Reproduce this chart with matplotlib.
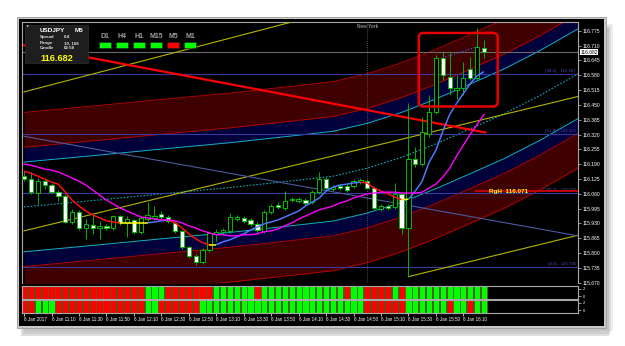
import matplotlib
matplotlib.use("Agg")
import matplotlib.pyplot as plt
import numpy as np
from matplotlib.patches import Rectangle, FancyBboxPatch
from matplotlib.collections import LineCollection

plt.rcParams['font.family'] = ['Liberation Sans', 'DejaVu Sans']

# USDJPY M5, 6 Jan 2017, bars from 10:50 to 16:25
opens = [116.137, 116.124, 116.063, 116.115, 116.098, 116.067, 116.050, 115.936, 115.980, 115.910,
         115.923, 115.910, 115.919, 115.910, 115.962, 115.932, 115.945, 115.893, 115.949, 115.954,
         115.971, 115.958, 115.932, 115.897, 115.827, 115.788, 115.762, 115.814, 115.884, 115.893,
         115.897, 115.949, 115.954, 115.945, 115.928, 115.897, 115.980, 116.011, 115.997, 116.032,
         116.028, 116.032, 116.024, 116.067, 116.124, 116.080, 116.094, 116.094, 116.094, 116.111,
         116.115, 116.085, 115.993, 116.006, 116.002, 116.059, 115.910, 116.211, 116.190, 116.321,
         116.421, 116.657, 116.574, 116.517, 116.526, 116.609, 116.570, 116.701]
highs = [116.159, 116.155, 116.129, 116.124, 116.107, 116.076, 116.059, 115.993, 115.989, 115.949,
         115.971, 115.941, 115.928, 115.967, 115.967, 115.962, 115.949, 115.962, 116.024, 116.006,
         115.984, 115.967, 115.941, 115.901, 115.832, 115.796, 115.823, 115.897, 115.906, 115.910,
         115.976, 115.967, 115.962, 115.954, 115.936, 115.989, 116.015, 116.024, 116.072, 116.046,
         116.046, 116.041, 116.076, 116.155, 116.133, 116.098, 116.102, 116.102, 116.124, 116.129,
         116.124, 116.094, 116.015, 116.015, 116.107, 116.067, 116.460, 116.264, 116.399, 116.495,
         116.670, 116.683, 116.683, 116.583, 116.640, 116.661, 116.788, 116.736]
lows = [116.115, 116.059, 116.015, 116.080, 116.059, 116.028, 115.932, 115.928, 115.901, 115.862,
        115.884, 115.862, 115.901, 115.901, 115.923, 115.871, 115.884, 115.884, 115.941, 115.945,
        115.949, 115.932, 115.888, 115.818, 115.779, 115.748, 115.753, 115.805, 115.853, 115.880,
        115.888, 115.941, 115.932, 115.919, 115.888, 115.888, 115.971, 115.993, 115.989, 116.024,
        116.019, 116.011, 116.015, 116.059, 116.076, 116.072, 116.076, 116.067, 116.085, 116.102,
        116.080, 115.989, 115.984, 115.989, 115.993, 115.884, 115.696, 116.177, 116.181, 116.308,
        116.408, 116.561, 116.495, 116.474, 116.495, 116.561, 116.561, 116.657]
closes = [116.124, 116.067, 116.115, 116.098, 116.067, 116.050, 115.936, 115.980, 115.910, 115.928,
          115.910, 115.919, 115.910, 115.962, 115.932, 115.949, 115.893, 115.954, 115.967, 115.962,
          115.958, 115.941, 115.897, 115.827, 115.788, 115.762, 115.814, 115.888, 115.893, 115.901,
          115.958, 115.958, 115.941, 115.928, 115.901, 115.980, 116.006, 116.002, 116.028, 116.037,
          116.037, 116.019, 116.067, 116.124, 116.085, 116.089, 116.085, 116.076, 116.115, 116.120,
          116.085, 115.997, 116.006, 115.997, 116.059, 115.910, 116.211, 116.190, 116.329, 116.421,
          116.657, 116.583, 116.526, 116.526, 116.570, 116.570, 116.705, 116.683]

ma_fast = [116.159, 116.150, 116.137, 116.124, 116.111, 116.102, 116.067, 116.032, 116.006, 115.984,
           115.967, 115.954, 115.941, 115.936, 115.932, 115.932, 115.932, 115.932, 115.932, 115.936,
           115.941, 115.945, 115.932, 115.910, 115.884, 115.862, 115.845, 115.836, 115.836, 115.849,
           115.858, 115.871, 115.884, 115.901, 115.914, 115.928, 115.936, 115.945, 115.958, 115.971,
           115.984, 116.006, 116.024, 116.041, 116.072, 116.089, 116.098, 116.102, 116.107, 116.111,
           116.107, 116.085, 116.072, 116.059, 116.046, 116.034, 116.036, 116.072, 116.115, 116.198,
           116.251, 116.334, 116.408, 116.456, 116.500, 116.543, 116.578, 116.596]
ma_slow = [116.190, 116.185, 116.177, 116.168, 116.164, 116.155, 116.142, 116.129, 116.115, 116.098,
           116.076, 116.054, 116.032, 116.015, 115.997, 115.984, 115.971, 115.958, 115.954, 115.949,
           115.945, 115.945, 115.941, 115.932, 115.919, 115.910, 115.897, 115.888, 115.880, 115.880,
           115.875, 115.875, 115.880, 115.880, 115.884, 115.893, 115.897, 115.906, 115.919, 115.932,
           115.949, 115.962, 115.976, 115.989, 115.997, 116.006, 116.019, 116.028, 116.041, 116.050,
           116.059, 116.063, 116.067, 116.067, 116.067, 116.063, 116.063, 116.063, 116.067, 116.085,
           116.102, 116.133, 116.172, 116.225, 116.273, 116.321, 116.364, 116.408]

# polynomial regression channel: middle line and band offsets
chan_x = [0, 10, 20, 30, 40, 45, 50, 55, 60, 65, 70, 75, 81]
chan_mid = [116.002, 116.030, 116.059, 116.087, 116.120, 116.137, 116.172, 116.220, 116.279,
            116.345, 116.412, 116.489, 116.592]
band_inner = 0.197
band_mid = 0.262
band_outer = 0.415

# straight trend lines: (bar, bar), (price, price)
yellow_top = ([0, 39], [116.507, 116.814])
yellow_mid = ([0, 80.7], [115.897, 116.487])
yellow_low = ([56, 81], [115.696, 115.880])
steel_line = ([0, 80.7], [116.312, 115.875])
red_trend = ([0, 67.2], [116.712, 116.329])
blue_dots = ([61, 66], [116.657, 116.705])

fibo_levels = [116.587, 116.321, 116.063, 115.740]
fibo_names = ['(38.2) - 116.587', '(61.8) - 116.321', '(100.0) - 116.063', '(0.0) - 115.740']
rgh_level = 116.071
rgh_start = 65.8
bid = 116.682
box_bars = (57.5, 69.0)
box_prices = (116.443, 116.766)
ny_bar = 50

price_ticks = [116.775 - 0.065 * k for k in range(18)]
time_ticks = [0, 4, 8, 12, 16, 20, 24, 28, 32, 36, 40, 44, 48, 52, 56, 60, 64]
time_labels = ['6 Jan 2017', '6 Jan 11:10', '6 Jan 11:30', '6 Jan 11:50', '6 Jan 12:10',
               '6 Jan 12:30', '6 Jan 12:50', '6 Jan 13:10', '6 Jan 13:30', '6 Jan 13:50',
               '6 Jan 14:10', '6 Jan 14:30', '6 Jan 14:50', '6 Jan 15:10', '6 Jan 15:30',
               '6 Jan 15:50', '6 Jan 16:10']

trend_a = "RRRRRRRRRRRRRRRRRRGGGRRRRRRRGGGGGGRGGGGGGGGGGGGRGGRRRRGRGGGGGGGGGGGG"
trend_b = "RRGGGRRRRRRRRRRRRRGGRRRRRRGGGGGGGGGGGGGGGGGGGGGGGGRRRRRRGGGGGGRGGRGG"

tf_names = ['D1', 'H4', 'H1', 'M15', 'M5', 'M1']
tf_state = ['G', 'G', 'G', 'G', 'R', 'G']

idx = np.arange(len(opens))
o = np.array(opens); h = np.array(highs); l = np.array(lows); c = np.array(closes)

fig = plt.figure(figsize=(6.25, 3.46), dpi=100)
fig.patch.set_facecolor('white')
# window shadow, frame and black chart background (behind the axes)
for k, a in enumerate([0.12, 0.18, 0.25]):
    fig.patches.append(Rectangle((0.034 + 0.003 * (2 - k), 0.030 + 0.006 * (2 - k)), 0.94, 0.89,
                                 transform=fig.transFigure, fc='#808080', alpha=a, ec='none', zorder=-5))
fig.patches.append(Rectangle((0.0272, 0.052), 0.9424, 0.8988, transform=fig.transFigure,
                             fc='#c8c8c8', ec='#9a9a9a', lw=0.6, zorder=-4))
fig.patches.append(Rectangle((0.0304, 0.0578), 0.936, 0.8866, transform=fig.transFigure,
                             fc='black', ec='none', zorder=-3))

ax = fig.add_axes([0.0352, 0.18208, 0.8896, 0.75434])
ax1 = fig.add_axes([0.0352, 0.13584, 0.8896, 0.03757])
ax2 = fig.add_axes([0.0352, 0.09538, 0.8896, 0.03757])
for a in (ax, ax1, ax2):
    a.set_facecolor('black')
    a.set_xlim(-0.3, 80.7)
    for s in a.spines.values():
        s.set_color('#a8a8a8')
        s.set_linewidth(0.8)
ax.spines['bottom'].set_visible(False)
ax.set_ylim(115.668, 116.814)

# regression channel
mid = np.array(chan_mid)
red_fill = '#3e0000'
navy_fill = '#00003a'
ax.fill_between(chan_x, mid + band_mid, mid + band_outer, color=red_fill, lw=0, zorder=1)
ax.fill_between(chan_x, mid + band_inner, mid + band_mid, color=navy_fill, lw=0, zorder=1)
ax.fill_between(chan_x, mid - band_mid, mid - band_inner, color=navy_fill, lw=0, zorder=1)
ax.fill_between(chan_x, mid - band_outer, mid - band_mid, color=red_fill, lw=0, zorder=1)
for off in (band_outer, band_mid, -band_mid, -band_outer):
    ax.plot(chan_x, mid + off, color='#b00000', lw=0.7, zorder=2)
for off in (band_inner, -band_inner):
    ax.plot(chan_x, mid + off, color='#10b0c8', lw=0.7, zorder=2)
ax.plot(chan_x, mid, color='#10a8b8', lw=0.8, ls=(0, (1.5, 1.5)), zorder=2)

# horizontal levels
for lv, name in zip(fibo_levels, fibo_names):
    ax.axhline(lv, color='#3a3a9c', lw=0.8, zorder=2)
    ax.text(80.4, lv + 0.004, name, color='#4a4ab8', fontsize=3.2, ha='right', va='bottom', zorder=3)
ax.axhline(bid, color='#6a6a6a', lw=0.8, zorder=2)
ax.plot([rgh_start, 81], [rgh_level, rgh_level], color='#d00000', lw=1.3, zorder=3)
ax.text(rgh_start + 1.9, rgh_level, 'RgH  116.071', color='#ffff00', fontsize=4.6,
        fontweight='bold', va='center', ha='left', zorder=8)

# trend lines
for (xs, ys) in (yellow_top, yellow_mid, yellow_low):
    ax.plot(xs, ys, color='#b4b400', lw=0.8, zorder=3)
ax.plot(*steel_line, color='#4c5c9c', lw=0.8, zorder=3)
ax.plot(*red_trend, color='#ff0000', lw=1.6, zorder=3)
ax.plot(*blue_dots, color='#4060ff', lw=0.8, ls=':', zorder=7)
ax.axvline(ny_bar, color='#6a6a40', lw=0.6, ls=(0, (1, 1.5)), zorder=2)
ax.text(ny_bar, 116.796, 'New York', color='#8a8a8a', fontsize=3.4, fontweight='bold',
        ha='center', va='center', zorder=8)

# candles
up = c >= o
ax.vlines(idx, l, h, color='#00b400', lw=0.7, zorder=4)
ax.bar(idx, np.maximum(np.abs(c - o), 0.002), bottom=np.minimum(o, c), width=0.62,
       color=np.where(up, 'black', 'white'), edgecolor='#00c000', linewidth=0.7, zorder=5)

# moving averages
pts = np.column_stack([idx, ma_fast])
segs = np.stack([pts[:-1], pts[1:]], axis=1)
d = np.diff(ma_fast)
seg_cols = np.where(d > 0.003, '#5078ff', np.where(d < -0.003, '#ff1010', '#ffff00'))
ax.add_collection(LineCollection(segs, colors=seg_cols, linewidths=1.1, zorder=6))
ax.plot(idx, ma_slow, color='#ff00ff', lw=1.0, zorder=6)

# highlight box
ax.add_patch(FancyBboxPatch((box_bars[0], box_prices[0]), box_bars[1] - box_bars[0],
                            box_prices[1] - box_prices[0], boxstyle='round,pad=0,rounding_size=0.7',
                            mutation_aspect=0.0301, fc='none', ec='#e80000', lw=1.8, zorder=7))

# price axis
ax.yaxis.tick_right()
ax.set_yticks(price_ticks)
ax.set_yticklabels([f'{v:.3f}' for v in price_ticks])
ax.tick_params(axis='y', colors='#a8a8a8', labelcolor='white', labelsize=3.6, length=2, width=0.6, pad=1.5)
ax.tick_params(axis='x', bottom=False, labelbottom=False)
ax.text(1.004, bid, '116.682', transform=ax.get_yaxis_transform(), fontsize=3.6, color='black',
        ha='left', va='center', bbox=dict(fc='white', ec='none', pad=0.5), zorder=9, clip_on=False)

# info panel
tr = ax.transAxes
ax.add_patch(Rectangle((0.0054, 0.843), 0.1133, 0.1455, transform=tr, fc='#1e1e1e', ec='#2e2e2e',
                       lw=0.5, zorder=10))
ax.text(0.006, 0.992, '\u25bc', transform=tr, color='white', fontsize=2.5, ha='left', va='top', zorder=11)
ax.text(0.0324, 0.969, 'USDJPY', transform=tr, color='white', fontsize=4.6, fontweight='bold',
        va='center', zorder=11)
ax.text(0.0955, 0.969, 'M5', transform=tr, color='white', fontsize=4.6, fontweight='bold',
        va='center', zorder=11)
for yy, k, v in ((0.9425, 'Spread', '0.4'), (0.9195, 'Range', '10, 168'), (0.8985, 'Candle', '02:58')):
    ax.text(0.0324, yy, k, transform=tr, color='#e0e0e0', fontsize=3.2, fontweight='bold', va='center', zorder=11)
    ax.text(0.0755, yy, v, transform=tr, color='#e0e0e0', fontsize=3.2, fontweight='bold', va='center', zorder=11)
ax.text(0.0324, 0.862, f'{bid:.3f}', transform=tr, color='#ffff00', fontsize=6.6, fontweight='bold',
        va='center', zorder=11)
for k, (name, st) in enumerate(zip(tf_names, tf_state)):
    x0 = 0.1385 + k * 0.03058
    ax.text(x0 + 0.0108, 0.946, name, transform=tr, color='#a0a0a0', fontsize=5, fontweight='bold',
            ha='center', va='center', zorder=11)
    ax.add_patch(Rectangle((x0, 0.9004), 0.0216, 0.0226, transform=tr,
                           fc='#00ff00' if st == 'G' else '#ff0000', ec='#202020', lw=0.4, zorder=11))

# trend strength sub windows
for a, row in ((ax1, trend_a), (ax2, trend_b)):
    cols = ['#00ff00' if ch == 'G' else '#ff0000' for ch in row]
    a.bar(idx, 3.6, bottom=-0.8, width=0.9, color=cols, edgecolor='#5c5c1c', linewidth=0.6)
    a.set_ylim(-0.8, 2.8)
    a.yaxis.tick_right()
    a.set_yticks([0, 2])
    a.set_yticklabels(['0', '2'])
    a.tick_params(axis='y', colors='#a8a8a8', labelcolor='white', labelsize=3.0, length=2, width=0.6, pad=1.5)
ax1.tick_params(axis='x', bottom=False, labelbottom=False)
ax2.set_xticks(time_ticks)
ax2.set_xticklabels(time_labels, ha='left')
ax2.tick_params(axis='x', colors='white', labelsize=3.3, length=2, width=0.5, pad=1.2)

fig.savefig('out.png', dpi=100)
